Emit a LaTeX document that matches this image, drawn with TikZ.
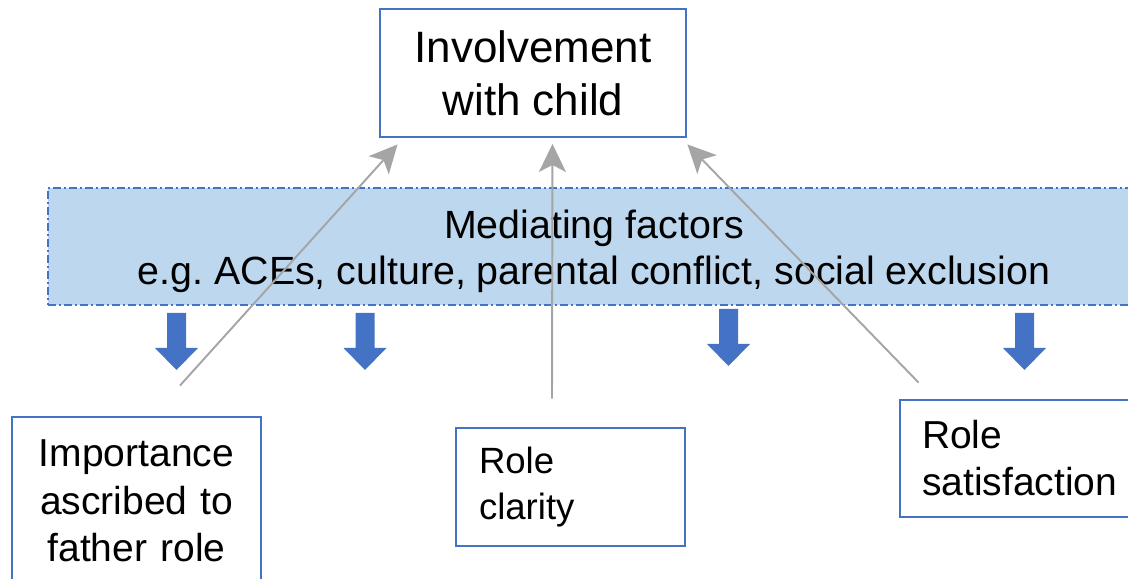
\documentclass[tikz,border=0pt]{standalone}
\usepackage{fontspec}
\setmainfont{Liberation Sans}
\usetikzlibrary{arrows.meta}
\definecolor{boxblue}{HTML}{4472C4}
\definecolor{bandfill}{HTML}{BDD7EE}
\definecolor{linkgray}{HTML}{A5A5A5}
\tikzset{
	factor/.style={draw=boxblue, line width=1.1pt, fill=white, inner sep=0pt},
	link/.style={draw=linkgray, line width=1.1pt, -{Stealth[length=0.56cm, width=0.54cm, inset=0.14cm]}},
	push/.style={fill=boxblue},
}
\frenchspacing
\begin{document}
\begin{tikzpicture}
	\useasboundingbox (0,0) rectangle (22.56,11.58);
	% outcome and the band of mediating factors
	\node[factor, minimum width=6.12cm, minimum height=2.56cm, align=center,
		font=\fontsize{25}{30}\selectfont] (inv) at (10.66,10.12) {Involvement\\with child};
	\node[factor, fill=bandfill, minimum width=21.84cm, minimum height=2.34cm,
		dash pattern=on 0.16cm off 0.06cm on 0.04cm off 0.06cm] (band) at (11.88,6.65) {};
	\node[align=center, font=\fontsize{22.4}{26}\selectfont] (mediators)
		at ([yshift=-0.1cm]band.center)
		{Mediating factors\\e.g. ACEs, culture, parental conflict, social exclusion};
	% the three role factors
	\node[factor, minimum width=4.98cm, minimum height=3.36cm, text width=4.78cm,
		align=center, font=\fontsize{22.2}{27}\selectfont] (imp) at (2.73,1.56)
		{Importance\\ascribed to\\father role};
	\node[factor, minimum height=2.36cm, inner xsep=0.46cm, text width=3.66cm,
		align=left, font=\fontsize{20.8}{25.8}\selectfont] (clar) at (11.41,1.84)
		{Role\\clarity};
	\node[factor, minimum height=2.34cm, inner xsep=0.44cm, text width=4.12cm,
		align=left, font=\fontsize{22.2}{26.7}\selectfont] (sat) at (20.50,2.41)
		{Role\\satisfaction};
	% block arrows under the band
	\foreach \x/\y in {3.53/5.32, 7.30/5.32, 14.57/5.40, 20.49/5.32}
		\fill[push] (\x-0.19,\y) -- (\x+0.19,\y) -- (\x+0.19,\y-0.70) -- (\x+0.43,\y-0.70)
			-- (\x,\y-1.14) -- (\x-0.43,\y-0.70) -- (\x-0.19,\y-0.70) -- cycle;
	% links up to the outcome
	\coordinate (imp-out) at ([shift={(0.87,0.61)}]imp.north);
	\coordinate (clar-out) at ([shift={(-0.37,0.57)}]clar.north);
	\coordinate (sat-out) at ([shift={(0.39,0.33)}]sat.north west);
	\coordinate (inv-in1) at ([shift={(0.37,-0.13)}]inv.south west);
	\coordinate (inv-in2) at ([shift={(0.39,-0.12)}]inv.south);
	\coordinate (inv-in3) at ([shift={(0.01,-0.13)}]inv.south east);
	\draw[link] (imp-out) -- (inv-in1);
	\draw[link] (clar-out) -- (inv-in2);
	\draw[link] (sat-out) -- (inv-in3);
\end{tikzpicture}
\end{document}
